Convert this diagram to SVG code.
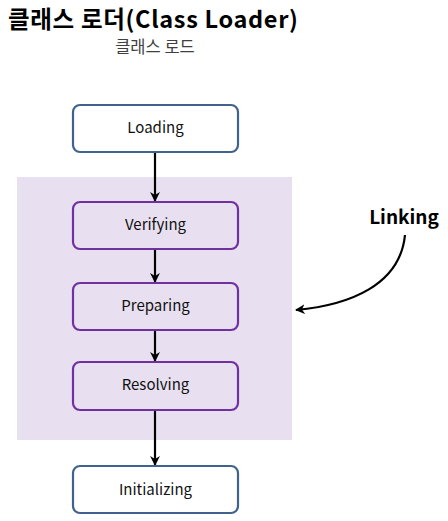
<svg xmlns="http://www.w3.org/2000/svg" width="448" height="521" viewBox="0 0 448 521">
<style>
text{font-family:"Noto Sans CJK KR","Noto Sans",sans-serif;}
.lbl{font-size:15px;fill:#111;text-anchor:middle;}
.blue{fill:#fff;stroke:#41628f;stroke-width:2.2;}
.purple{fill:none;stroke:#7030a0;stroke-width:2.2;}
.arr{stroke:#000;stroke-width:2.2;fill:none;marker-end:url(#ah);}
</style>
<defs>
<marker id="ah" viewBox="0 0 10 10" refX="9" refY="5" markerWidth="4.5" markerHeight="4.5" orient="auto" markerUnits="strokeWidth">
<path d="M0,0 L10,5 L0,10 L3,5 Z" fill="#000"/>
</marker>
</defs>
<rect width="448" height="521" fill="#fff"/>
<text x="8" y="27.5" font-size="23.5" font-weight="bold" fill="#000" textLength="290" lengthAdjust="spacing">클래스 로더(Class Loader)</text>
<text x="155" y="53" font-size="16.5" fill="#404040" text-anchor="middle">클래스 로드</text>
<rect id="linking-area" x="17" y="177" width="275" height="263" fill="#e8e0f0"/>
<g id="connectors">
<line class="arr" x1="155" y1="152" x2="155" y2="201"/>
<line class="arr" x1="155" y1="249" x2="155" y2="282"/>
<line class="arr" x1="155" y1="330" x2="155" y2="361"/>
<line class="arr" x1="155" y1="410" x2="155" y2="465"/>
<path class="arr" d="M405,235 C400,285 350,305 296,310"/>
</g>
<g id="loading"><rect class="blue" x="73" y="105" width="165" height="47" rx="7"/><text class="lbl" x="155.5" y="133">Loading</text></g>
<g id="verifying"><rect class="purple" x="73" y="202" width="165" height="47" rx="7"/><text class="lbl" x="155.5" y="230">Verifying</text></g>
<g id="preparing"><rect class="purple" x="73" y="283" width="165" height="47" rx="7"/><text class="lbl" x="155.5" y="311">Preparing</text></g>
<g id="resolving"><rect class="purple" x="73" y="362" width="165" height="48" rx="7"/><text class="lbl" x="155.5" y="390">Resolving</text></g>
<g id="initializing"><rect class="blue" x="73" y="466" width="165" height="47" rx="7"/><text class="lbl" x="155.5" y="495">Initializing</text></g>
<g id="linking"><text x="404" y="224" font-size="19" font-weight="bold" text-anchor="middle" fill="#000">Linking</text></g>
</svg>
